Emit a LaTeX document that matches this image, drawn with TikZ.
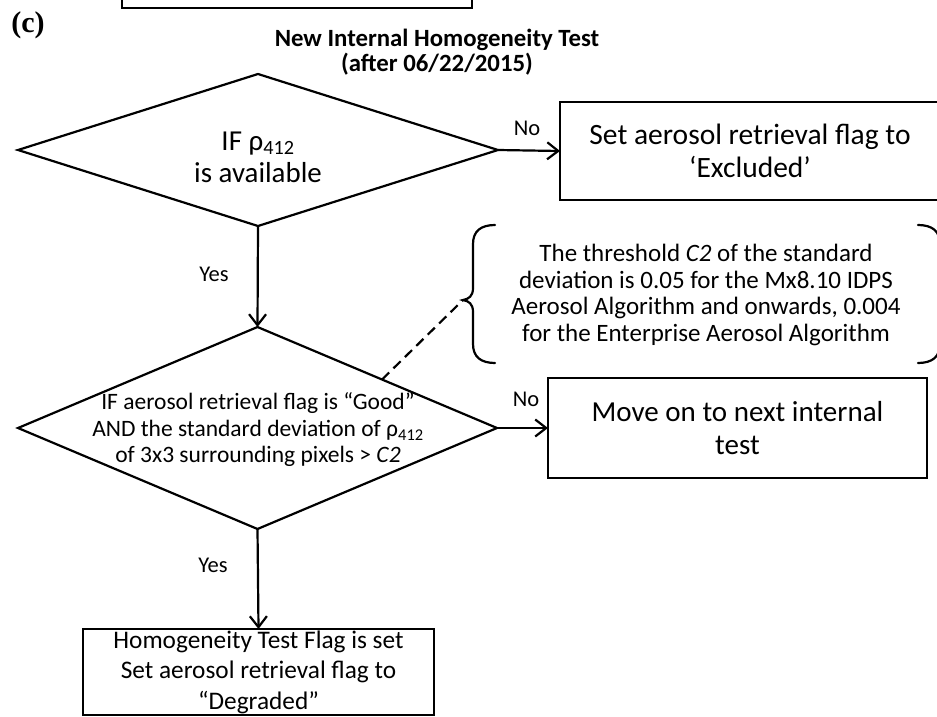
\documentclass[tikz,border=0pt]{standalone}
\usepackage{fontspec}
\setmainfont{Carlito}
\newfontfamily\serifbold{Liberation Serif}
\usetikzlibrary{shapes.geometric,arrows.meta,calc}
\newcommand{\fs}[2]{\fontsize{#1}{#2}\selectfont}
\newcommand{\rhosub}{ρ\textsubscript{412}}
\tikzset{
  ln/.style={line width=2.2pt},
  boxnode/.style={draw, ln, inner sep=0pt, outer sep=0pt, align=center},
  dianode/.style={diamond, draw, ln, inner sep=0pt, outer sep=0pt},
  txt/.style={inner sep=0pt, align=center},
  arr/.style={ln, -{Straight Barb[length=11pt,width=17pt,line width=2.2pt]}},
  lbl/.style={inner sep=0pt, font=\fs{22.5}{26}},
  brace/.style={ln, line cap=round}
}
\begin{document}
\begin{tikzpicture}[x=1pt,y=-1pt]
\useasboundingbox (0,0) rectangle (937,717);
\clip (0,0) rectangle (937,717);
\fill[white] (0,0) rectangle (937,717);

% fragment of box above
\node[boxnode, minimum width=350pt, minimum height=60pt] (topbox) at (297,-22) {};

% label and title
\node[txt, font=\serifbold\bfseries\fs{30}{34}] (lab) at (28,25) {(c)};
\node[txt, font=\bfseries\fs{24.8}{25}] (title) at (437,52) {New Internal Homogeneity Test\\(after 06/22/2015)};

% first decision
\node[dianode, minimum width=480pt, minimum height=152pt] (d1) at (258,150) {};
\node[txt, font=\fs{28.9}{32}] (d1t) at (258,157) {IF \rhosub\\is available};

% box: excluded
\node[boxnode, minimum width=380pt, minimum height=98pt, font=\fs{29.5}{33}] (b1) at (750,151) {Set aerosol retrieval flag to\\‘Excluded’};

% second decision
\node[dianode, minimum width=479pt, minimum height=202pt] (d2) at (257.5,428) {};
\node[txt, font=\fs{23.5}{26.5}] (d2t) at (258,430) {IF aerosol retrieval flag is “Good”\\AND the standard deviation of \rhosub\\of 3x3 surrounding pixels > \textit{C2}};

% box: move on
\node[boxnode, minimum width=379pt, minimum height=100pt, font=\fs{29}{33}] (b2) at (737.5,428) {Move on to next internal\\test};

% box: degraded
\node[boxnode, minimum width=351pt, minimum height=86pt, font=\fs{25.3}{30.5}] (b3) at (258.5,672) {Homogeneity Test Flag is set\\Set aerosol retrieval flag to\\“Degraded”};

% callout
\node[txt, font=\fs{25}{26.7}] (note) at (706,295) {The threshold \textit{C2} of the standard\\deviation is 0.05 for the Mx8.10 IDPS\\Aerosol Algorithm and onwards, 0.004\\for the Enterprise Aerosol Algorithm};
\coordinate (tip) at (463,300);
\draw[brace] (495,225) .. controls (481,225) and (473,231) .. (473,244) -- (473,288)
  .. controls (473,296) and (469,299) .. (tip)
  .. controls (469,301) and (473,304) .. (473,312) -- (473,344)
  .. controls (473,357) and (481,363) .. (495,363);
\draw[brace] (918,225) .. controls (932,225) and (940,231) .. (940,244) -- (940,344)
  .. controls (940,357) and (932,363) .. (918,363);
\coordinate (dstart) at ($(d2.north)!0.52!(d2.east)$);
\draw[ln, dash pattern=on 10pt off 6pt] (dstart) -- (tip);

% connectors
\draw[arr] (d1.east) -- (b1.west);
\draw[arr] (d1.south) -- (d2.north);
\draw[arr] (d2.east) -- (b2.west);
\draw[arr] (d2.south) -- (b3.north);

% connector labels
\node[lbl] (no1) at (527,128) {No};
\node[lbl] (yes1) at (214,274) {Yes};
\node[lbl] (no2) at (526,399) {No};
\node[lbl] (yes2) at (213,565) {Yes};
\end{tikzpicture}
\end{document}
